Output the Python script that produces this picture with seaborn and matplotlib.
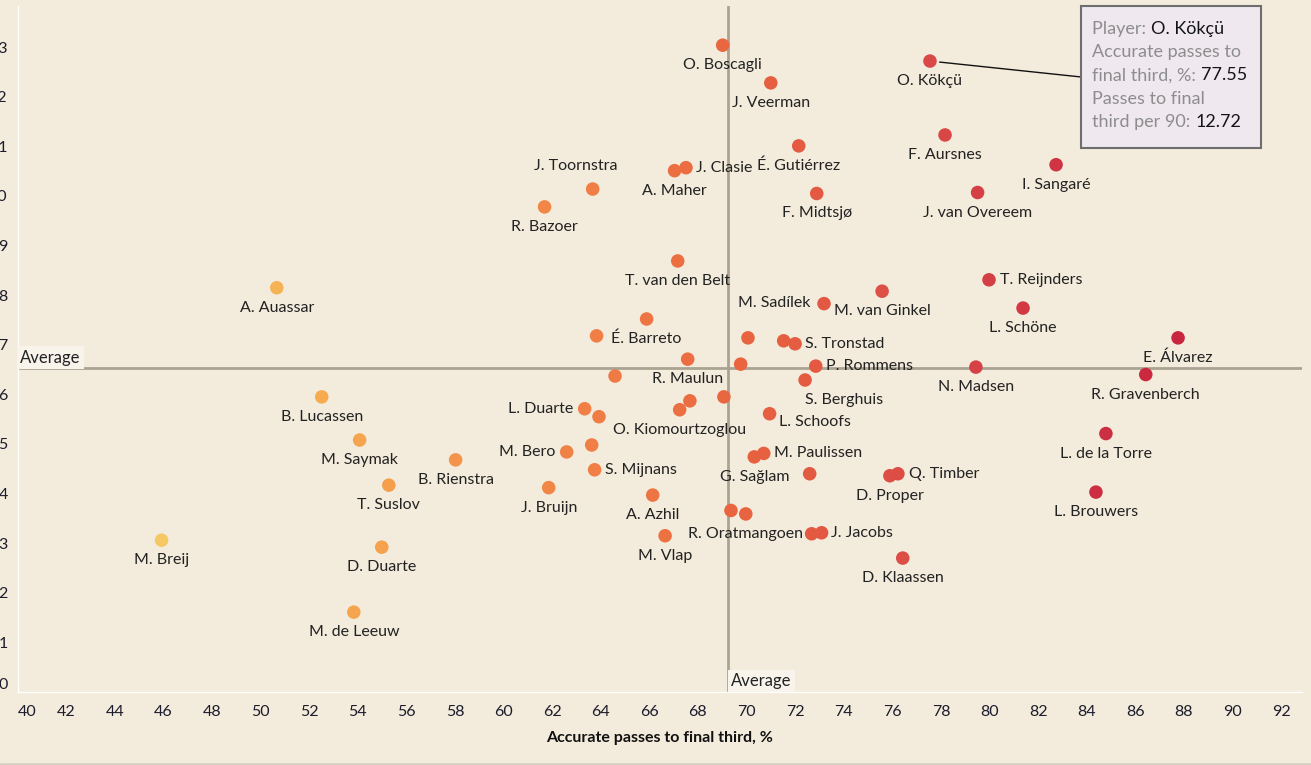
import numpy as np
import pandas as pd
import matplotlib
matplotlib.use("Agg")
import matplotlib.pyplot as plt
import seaborn as sns
from matplotlib.colors import LinearSegmentedColormap
from matplotlib.lines import Line2D

# ── data ─────────────────────────────────────────────────────
players = [
    "O. Boscagli", "J. Veerman", "É. Gutiérrez", "J. Clasie", "A. Maher",
    "J. Toornstra", "R. Bazoer", "F. Midtsjø", "T. van den Belt", "M. Sadílek",
    "M. van Ginkel", "É. Barreto", "S. Tronstad", "R. Maulun", "P. Rommens",
    "S. Berghuis", "N. Madsen", "R. Gravenberch", "E. Álvarez", "L. Schöne",
    "T. Reijnders", "I. Sangaré", "J. van Overeem", "F. Aursnes", "O. Kökçü",
    "A. Auassar", "B. Lucassen", "M. Saymak", "B. Rienstra", "T. Suslov",
    "M. Breij", "D. Duarte", "M. de Leeuw", "L. Duarte", "O. Kiomourtzoglou",
    "L. Schoofs", "M. Bero", "S. Mijnans", "J. Bruijn", "A. Azhil",
    "M. Vlap", "G. Sağlam", "M. Paulissen", "R. Oratmangoen", "J. Jacobs",
    "D. Proper", "Q. Timber", "D. Klaassen", "L. de la Torre", "L. Brouwers",
    "", "", "", "", "", "", "", "", "", "", "", "",
]
accuracy = [
    69.02, 71.00, 72.15, 67.51, 67.04,
    63.67, 61.69, 72.89, 67.17, 73.19,
    75.58, 65.89, 72.00, 67.58, 72.85,
    72.41, 79.44, 86.43, 87.76, 81.38,
    79.98, 82.74, 79.51, 78.17, 77.55,
    50.67, 52.52, 54.08, 58.03, 55.28,
    45.93, 54.99, 53.84, 63.34, 67.25,
    70.95, 62.60, 63.75, 61.86, 66.14,
    66.65, 70.32, 70.71, 69.97, 73.09,
    75.90, 76.23, 76.43, 84.79, 84.38,
    70.06, 71.53, 69.76, 63.83, 64.59, 67.67, 69.07, 63.93, 63.63, 72.60, 69.36, 72.68,
]
per90 = [
    13.04, 12.28, 11.01, 10.57, 10.51,
    10.14, 9.78, 10.05, 8.69, 7.83,
    8.08, 7.52, 7.02, 6.71, 6.57,
    6.29, 6.55, 6.40, 7.14, 7.74,
    8.31, 10.63, 10.07, 11.23, 12.72,
    8.15, 5.95, 5.08, 4.68, 4.17,
    3.06, 2.92, 1.61, 5.71, 5.69,
    5.61, 4.84, 4.48, 4.12, 3.97,
    3.15, 4.74, 4.81, 3.59, 3.21,
    4.36, 4.40, 2.70, 5.21, 4.03,
    7.14, 7.08, 6.61, 7.18, 6.37, 5.87, 5.95, 5.55, 4.98, 4.40, 3.66, 3.19,
]
avg_accuracy = 69.23
avg_per90 = 6.54

x_ticks = list(range(40, 93, 2))
y_ticks = list(range(0, 14))

df = pd.DataFrame({"player": players, "acc": accuracy, "p90": per90})

# label placement: (horizontal alignment, pixel offset from dot)
below = ("center", (0, -20))
place = {
    "J. Clasie": ("left", (10, 0)), "J. Toornstra": ("center", (-17, 23)),
    "M. Sadílek": ("right", (-14, 1)), "S. Tronstad": ("left", (10, 0)),
    "P. Rommens": ("left", (10, 0)), "S. Berghuis": ("left", (0, -20)),
    "T. Reijnders": ("left", (11, 0)), "L. Duarte": ("right", (-11, 0)),
    "L. Schoofs": ("left", (9, -8)), "M. Bero": ("right", (-11, 0)),
    "S. Mijnans": ("left", (10, 0)), "M. Paulissen": ("left", (10, 0)),
    "J. Jacobs": ("left", (9, 0)), "Q. Timber": ("left", (11, 0)),
}

BG = "#f3ecdc"
cmap = LinearSegmentedColormap.from_list(
    "acc", [(0.0, "#f5c865"), (0.16, "#f6aa50"), (0.42, "#f07f45"),
            (0.58, "#e8623f"), (0.75, "#da4a47"), (0.88, "#cf3344"),
            (1.0, "#c8263e")])

sns.set_style("white")
plt.rcParams["font.family"] = ["Lato", "DejaVu Sans"]

fig = plt.figure(figsize=(13.11, 7.65), dpi=100, facecolor=BG)
ax = fig.add_axes([17.5 / 1311, 73 / 765, 1284.5 / 1311, 686 / 765])
ax.set_facecolor(BG)

sns.scatterplot(data=df, x="acc", y="p90", hue="acc", palette=cmap,
                hue_norm=(45.9, 87.8), s=95, linewidth=0, legend=False,
                ax=ax, zorder=3)

# average lines
ax.axhline(avg_per90, color="#aba392", lw=2, zorder=2)
ax.axvline(avg_accuracy, color="#aba392", lw=2, zorder=2)
box = dict(boxstyle="square,pad=0.2", fc="#f8f4ec", ec="none")
ax.text(40.1, avg_per90 + 0.04, "Average", fontsize=12, color="#222222",
        ha="left", va="bottom", bbox=box, zorder=4)
ax.text(avg_accuracy + 0.15, 0.06, "Average", fontsize=12, color="#222222",
        ha="left", va="bottom", bbox=box, zorder=4)

# point labels
for _, r in df.iterrows():
    if not r["player"]:
        continue
    ha, off = place.get(r["player"], below)
    ax.annotate(r["player"], (r["acc"], r["p90"]), xytext=off,
                textcoords="offset pixels", ha=ha, va="center",
                fontsize=11.5, color="#222222", zorder=5)

ax.set_xlim(40, 92.86)
ax.set_ylim(0, 13.83)
ax.set_xticks(x_ticks)
ax.set_yticks(y_ticks)
ax.tick_params(axis="both", colors="#ffffff", length=5, width=1,
               labelcolor="#1c1c2c", labelsize=11.5)
ax.tick_params(axis="x", pad=4)
ax.tick_params(axis="y", pad=2)
ax.get_xticklabels()[0].set_ha("left")
ax.get_yticklabels()[0].set_va("bottom")

for s in ["top", "right"]:
    ax.spines[s].set_visible(False)
for s in ["left", "bottom"]:
    ax.spines[s].set_color("#ffffff")
    ax.spines[s].set_linewidth(1)

ax.set_xlabel("Accurate passes to final third, %", fontsize=11.5,
              fontweight="bold", color="#111111", labelpad=9)
ax.set_ylabel("")

# tooltip for O. Kökçü
kx, ky = 77.55, 12.72
bx = 40 + (1081 - 17.5) / 24.3
by = (692 - 77) / 49.6
ax.annotate("", xy=(kx, ky), xytext=(bx, by),
            arrowprops=dict(arrowstyle="-", color="#111111", lw=1,
                            shrinkA=0, shrinkB=7), zorder=6)
fig.patches.append(plt.Rectangle((1081 / 1311, 1 - 148 / 765), 180 / 1311, 142 / 765,
                                 transform=fig.transFigure, fc="#efe8ef",
                                 ec="#6e6e6e", lw=1.5, zorder=7))
tip_lines = [
    ("Player: ", "O. Kökçü"),
    ("Accurate passes to", ""),
    ("final third, %: ", "77.55"),
    ("Passes to final", ""),
    ("third per 90: ", "12.72"),
]
ys = [29.3, 52.3, 75.3, 99, 122]
for (grey, val), yy in zip(tip_lines, ys):
    t = fig.text(1092.5 / 1311, 1 - yy / 765, grey, fontsize=13,
                 color="#8d8d8d", ha="left", va="center", zorder=8)
    if val:
        fig.canvas.draw()
        bb = t.get_window_extent()
        fig.text(bb.x1 / 1311, 1 - yy / 765, val, fontsize=13,
                 color="#151515", ha="left", va="center", zorder=8)

# bottom frame line
fig.add_artist(Line2D([0, 1], [1.5 / 765, 1.5 / 765], transform=fig.transFigure,
                      color="#d6d0c4", lw=2))

fig.savefig("out.png", dpi=100, facecolor=BG)
